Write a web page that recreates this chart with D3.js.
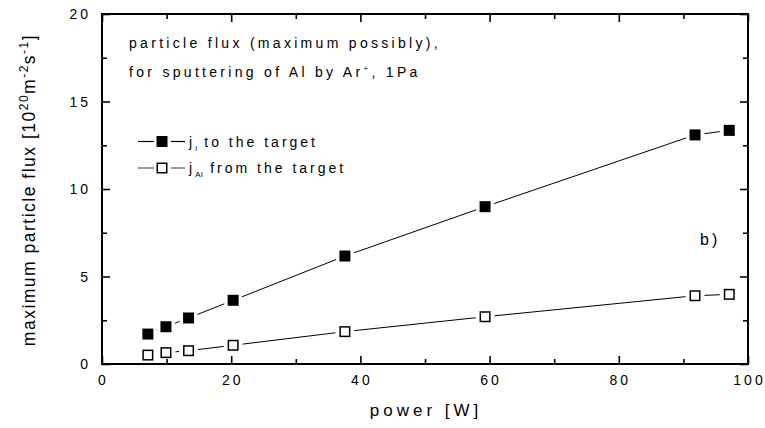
<!DOCTYPE html>
<html>
<head>
<meta charset="utf-8">
<script src="https://cdn.jsdelivr.net/npm/d3@7"></script>
<style>
  html, body { margin: 0; padding: 0; background: #fff; }
  svg { display: block; font-family: "Liberation Sans", Arial, sans-serif; }
</style>
</head>
<body>
<svg id="chart" width="765" height="428"></svg>
<script>
// ---- data ----
const power = [7.1, 9.9, 13.4, 20.3, 37.6, 59.3, 91.8, 97.1];
const fluxIons = [1.71, 2.13, 2.63, 3.64, 6.17, 8.99, 13.09, 13.35];
const fluxAl = [0.51, 0.65, 0.76, 1.07, 1.85, 2.70, 3.90, 3.98];
const xTicks = [0, 20, 40, 60, 80, 100];
const yTicks = [0, 5, 10, 15, 20];
const xMinor = [10, 30, 50, 70, 90];
const yMinor = [2.5, 7.5, 12.5, 17.5];

const svg = d3.select("#chart");
const L = 102, R = 748, T = 14, B = 364;
const x = d3.scaleLinear().domain([0, 100]).range([L, R]);
const y = d3.scaleLinear().domain([0, 20]).range([B, T]);

// axes (ticks inward)
function axis(gen, tr, vals, size) {
  const g = svg.append("g").attr("transform", tr)
    .call(gen.tickValues(vals).tickSize(size).tickFormat(""));
  g.select(".domain").remove();
  g.selectAll("line").attr("stroke", "#000").attr("stroke-width", 1.6);
  return g;
}
axis(d3.axisBottom(x), `translate(0,${B})`, xTicks, -8);
axis(d3.axisBottom(x), `translate(0,${B})`, xMinor, -5);
axis(d3.axisTop(x), `translate(0,${T})`, xTicks, -8);
axis(d3.axisTop(x), `translate(0,${T})`, xMinor, -5);
axis(d3.axisLeft(y), `translate(${L},0)`, yTicks, -8);
axis(d3.axisLeft(y), `translate(${L},0)`, yMinor, -5);
axis(d3.axisRight(y), `translate(${R},0)`, yTicks, -8);
axis(d3.axisRight(y), `translate(${R},0)`, yMinor, -5);

svg.append("rect").attr("x", L).attr("y", T).attr("width", R - L).attr("height", B - T)
  .attr("fill", "none").attr("stroke", "#000").attr("stroke-width", 2);

// tick labels
svg.append("g").selectAll("text").data(xTicks).join("text")
  .attr("x", d => x(d) + 1.5).attr("y", B + 21)
  .attr("text-anchor", "middle").attr("font-size", 14)
  .style("letter-spacing", "3px").attr("fill", "#000")
  .text(d => d);
svg.append("g").selectAll("text").data(yTicks).join("text")
  .attr("x", L - 11).attr("y", d => y(d) + 5)
  .attr("text-anchor", "end").attr("font-size", 14)
  .style("letter-spacing", "3px").attr("fill", "#000")
  .text(d => d);

// axis titles
svg.append("text").attr("x", 426).attr("y", 416).attr("text-anchor", "middle")
  .attr("font-size", 17).style("letter-spacing", "4px").text("power [W]");

const yt = svg.append("text").attr("transform", "translate(35,190) rotate(-90)")
  .attr("text-anchor", "middle").attr("font-size", 17.5).style("letter-spacing", "1.5px");
yt.append("tspan").text("maximum particle flux [10");
yt.append("tspan").attr("dy", -7).attr("font-size", 12).text("20");
yt.append("tspan").attr("dy", 7).text("m");
yt.append("tspan").attr("dy", -7).attr("font-size", 12).text("-2");
yt.append("tspan").attr("dy", 7).text("s");
yt.append("tspan").attr("dy", -7).attr("font-size", 12).text("-1");
yt.append("tspan").attr("dy", 7).text("]");

// annotation
svg.append("text").attr("x", 129).attr("y", 48).attr("font-size", 14)
  .style("letter-spacing", "3.3px").text("particle flux (maximum possibly),");
const a2 = svg.append("text").attr("x", 129).attr("y", 77).attr("font-size", 14)
  .style("letter-spacing", "3.3px");
a2.append("tspan").text("for sputtering of Al by Ar");
a2.append("tspan").attr("dy", -6).attr("font-size", 8).text("+");
a2.append("tspan").attr("dy", 6).text(", 1Pa");

svg.append("text").attr("x", 700).attr("y", 245).attr("font-size", 16)
  .style("letter-spacing", "3px").text("b)");

// series
const MS = 11;
function series(vals, filled) {
  const pts = power.map((p, i) => [x(p), y(vals[i])]);
  const segs = d3.pairs(pts).map(([a, b]) => {
    const dx = b[0] - a[0], dy = b[1] - a[1], len = Math.hypot(dx, dy);
    const cut = MS / 2 + 4;
    const ux = dx / len, uy = dy / len;
    return [[a[0] + ux * cut, a[1] + uy * cut], [b[0] - ux * cut, b[1] - uy * cut], len > 2 * cut];
  }).filter(s => s[2]);
  svg.append("g").selectAll("line").data(segs).join("line")
    .attr("x1", d => d[0][0]).attr("y1", d => d[0][1])
    .attr("x2", d => d[1][0]).attr("y2", d => d[1][1])
    .attr("stroke", "#000").attr("stroke-width", 1);
  const s = filled ? MS : MS - 1.5;
  svg.append("g").selectAll("rect").data(pts).join("rect")
    .attr("x", d => d[0] - s / 2).attr("y", d => d[1] - s / 2)
    .attr("width", s).attr("height", s)
    .attr("fill", filled ? "#000" : "#fff")
    .attr("stroke", "#000").attr("stroke-width", filled ? 0 : 1.5);
}
series(fluxIons, true);
series(fluxAl, false);

// legend
const lg = svg.append("g");
function legendRow(cy, filled, label, sub, col) {
  lg.append("line").attr("x1", 138).attr("x2", 154).attr("y1", cy).attr("y2", cy)
    .attr("stroke", col).attr("stroke-width", 1.2);
  lg.append("line").attr("x1", 171).attr("x2", 185).attr("y1", cy).attr("y2", cy)
    .attr("stroke", col).attr("stroke-width", 1.2);
  const s = filled ? 11 : 9.5;
  lg.append("rect").attr("x", 162 - s / 2).attr("y", cy - s / 2).attr("width", s).attr("height", s)
    .attr("fill", filled ? "#000" : "#fff").attr("stroke", "#000").attr("stroke-width", filled ? 0 : 1.5);
  const t = lg.append("text").attr("x", 189).attr("y", cy + 5).attr("font-size", 14)
    .style("letter-spacing", "3px");
  t.append("tspan").text("j");
  t.append("tspan").attr("dy", 4).attr("font-size", 8).style("letter-spacing", "0.5px").text(sub);
  t.append("tspan").attr("dy", -4).text(" " + label);
}
legendRow(141.5, true, "to the target", "i", "#000");
legendRow(168, false, "from the target", "Al", "#555");
</script>
</body>
</html>
